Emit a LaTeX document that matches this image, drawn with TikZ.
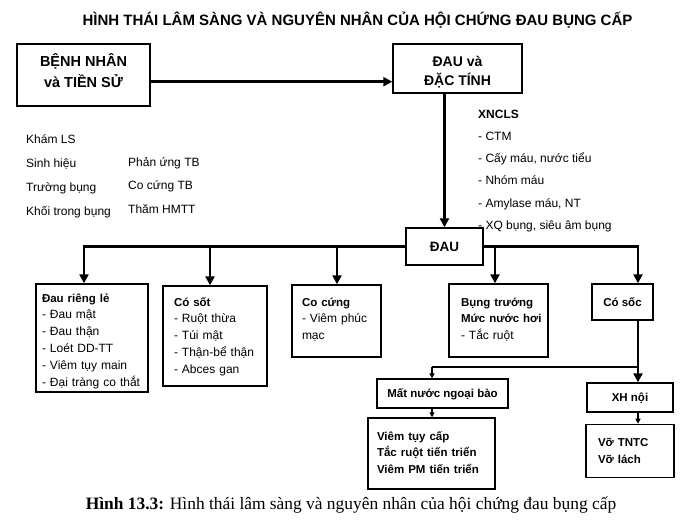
\documentclass[tikz,border=0pt]{standalone}
\usepackage{fontspec}
\setmainfont{Liberation Sans}
\newfontfamily\capfont{Liberation Serif}
\usetikzlibrary{arrows.meta,positioning}

\newcommand{\hd}[1]{{\bfseries\fontsize{11.5}{16.8}\selectfont\mbox{#1}}}

\begin{document}
\begin{tikzpicture}[
    x=1pt, y=-1pt,
    box/.style={rectangle, draw, line width=1.4pt, inner sep=0pt, align=center},
    list/.style={box, align=left, font=\fontsize{12}{16.8}\selectfont, text height=0pt},
    single/.style={box, text height=8.5pt, text depth=0pt, font=\bfseries\fontsize{11.5}{14}\selectfont},
    note/.style={font=\fontsize{12}{24}\selectfont, align=left, inner sep=0pt, anchor=base west},
    arrow/.style={-{Triangle[length=9pt,width=9pt]}, line width=2.6pt},
    smallarrow/.style={-{Triangle[length=5pt,width=5pt]}, line width=1.4pt},
    line/.style={line width=2.6pt}
]
\fill[white] (0,0) rectangle (681,520);

% title
\node[font=\bfseries\fontsize{15}{18}\selectfont, anchor=base] (title) at (357.5,25)
    {HÌNH THÁI LÂM SÀNG VÀ NGUYÊN NHÂN CỦA HỘI CHỨNG ĐAU BỤNG CẤP};

% top row (base of these nodes = last line)
\node[box, minimum width=133pt, minimum height=62pt, text height=24pt, text depth=0pt,
    font=\bfseries\fontsize{14.5}{21}\selectfont] (bn) at (83.5,75) {BỆNH NHÂN\\và TIỀN SỬ};
\node[box, minimum width=129pt, minimum height=49pt, text height=33pt, text depth=0pt,
    font=\bfseries\fontsize{14}{19}\selectfont] (dt) at (457.5,68.5) {ĐAU và\\ĐẶC TÍNH};
\node[box, minimum width=77pt, minimum height=37pt, text height=9.5pt, text depth=0pt,
    font=\bfseries\fontsize{13.5}{16}\selectfont] (dau) at (444.5,246.5) {ĐAU};

% notes, placed at their last line
\node[note] (kham) at (26,215.6) {Khám LS\\Sinh hiệu\\Trường bụng\\Khối trong bụng};
\node[note, font=\fontsize{12}{23.8}\selectfont] (phan) at (128,213.6) {Phản ứng TB\\Co cứng TB\\Thăm HMTT};
\node[note, font=\fontsize{12}{22.2}\selectfont] (xn) at (478,229.3)
    {\textbf{XNCLS}\\- CTM\\- Cấy máu, nước tiểu\\- Nhóm máu\\- Amylase máu, NT\\- XQ bụng, siêu âm bụng};

% groups
\node[list, minimum width=112pt, minimum height=108pt, text width=100pt, inner xsep=6pt, text depth=72pt] (a) at (92,338)
    {\hd{Đau riêng lẻ}\\- Đau mật\\- Đau thận\\- Loét DD-TT\\- Viêm tụy main\\- Đại tràng co thắt};
\node[list, minimum width=104pt, minimum height=100pt, text width=82pt, inner xsep=11pt, text depth=60pt] (b) at (215,336)
    {\hd{Có sốt}\\- Ruột thừa\\- Túi mật\\- Thận-bể thận\\- Abces gan};
\node[list, minimum width=89pt, minimum height=72pt, text width=69pt, inner xsep=10pt, text depth=30pt] (c) at (336.5,321)
    {\hd{Co cứng}\\- Viêm phúc\\mạc};
\node[list, minimum width=99pt, minimum height=73pt, text width=75pt, inner xsep=12pt, text depth=29pt] (d) at (498.5,320.5)
    {\hd{Bụng trướng}\\\hd{Mức nước hơi}\\- Tắc ruột};
\node[single, minimum width=61pt, minimum height=36pt] (e) at (622.5,302) {Có sốc};

% shock branch
\node[single, minimum width=131pt, minimum height=29pt] (mn) at (442.5,393.5) {Mất nước ngoại bào};
\node[list, minimum width=127pt, minimum height=71pt, text width=109pt, inner xsep=9pt, text depth=27pt] (vt) at (431.5,453.5)
    {\hd{Viêm tụy cấp}\\\hd{Tắc ruột tiến triển}\\\hd{Viêm PM tiến triển}};
\node[single, minimum width=86pt, minimum height=29pt] (xh) at (630,397.5) {XH nội};
\node[list, minimum width=88pt, minimum height=53pt, text width=64pt, inner xsep=12pt, text depth=9pt, below=11pt of xh] (vo)
    {\hd{Vỡ TNTC}\\\hd{Vỡ lách}};

% caption
\node[font=\capfont\fontsize{17.4}{20}\selectfont, anchor=base] (cap) at (351,509)
    {\textbf{Hình 13.3:} Hình thái lâm sàng và nguyên nhân của hội chứng đau bụng cấp};

\coordinate (jA) at (84,246.5);
\coordinate (jB) at (210,246.5);
\coordinate (jC) at (337,246.5);
\coordinate (jD) at (495,246.5);
\coordinate (jE) at (638,246.5);
\coordinate (jS) at (638,367);
\coordinate (jM) at (432,367);

\draw[arrow] ([yshift=-6.7pt]bn.east) -- ([yshift=-6.7pt]bn.east -| dt.west);
\draw[arrow] (dau.north |- dt.south) -- (dau.north);
\draw[arrow] (dau.west) -- (jA) -- (jA |- a.north);
\draw[arrow] (jB) -- (jB |- b.north);
\draw[arrow] (jC) -- (jC |- c.north);
\draw[arrow] (dau.east) -- (jE) -- (jE |- e.north);
\draw[arrow] (jD) -- (jD |- d.north);
\draw[arrow] (e.south -| jE) -- (jE |- xh.north);
\draw[line] (jS) -- (jM);
\draw[smallarrow] (jM) -- (jM |- mn.north);
\draw[smallarrow] (mn.south -| jM) -- (jM |- vt.north);
\draw[smallarrow] (xh.south -| jE) -- (jE |- vo.north);
\end{tikzpicture}
\end{document}
